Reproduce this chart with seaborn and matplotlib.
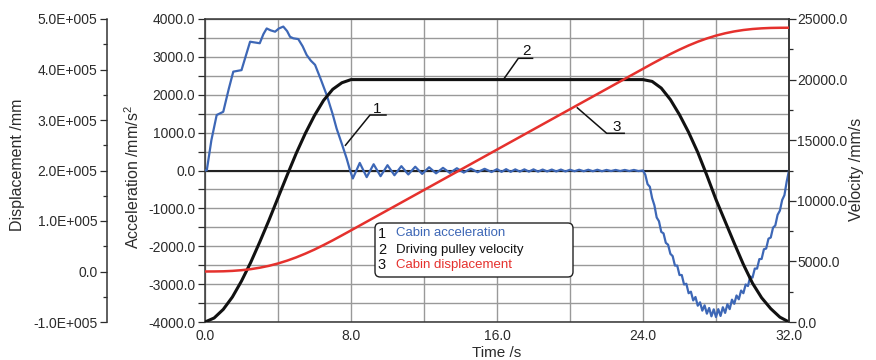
import matplotlib
matplotlib.use("Agg")
import matplotlib.pyplot as plt
import pandas as pd
import seaborn as sns
from matplotlib.patches import FancyBboxPatch
from matplotlib.ticker import MultipleLocator, FuncFormatter, FormatStrFormatter

# ---------------------------------------------------------------- data ----
# Cabin acceleration (mm/s^2) during start-up, constant-speed ripple and braking
acc_time_start = [0.0, 0.1, 0.35, 0.64, 1.0, 1.3, 1.55, 2.0, 2.25, 2.47, 3.0, 3.2,
                  3.38, 3.6, 3.84, 4.05, 4.29, 4.5, 4.66, 4.84, 5.11, 5.35, 5.57,
                  5.8, 6.03, 6.35, 6.67, 7.0, 7.21, 7.5, 7.76, 7.95]
acc_start = [0, 10, 800, 1465, 1550, 2150, 2610, 2650, 3050, 3400, 3360, 3600,
             3750, 3700, 3665, 3750, 3800, 3680, 3530, 3490, 3470, 3280, 3050,
             2900, 2790, 2400, 1990, 1480, 1110, 700, 320, 0]

acc_time_cruise = [8.1, 8.48, 8.86, 9.24, 9.62, 10.0, 10.38, 10.76, 11.14, 11.52,
                   11.9, 12.28, 12.66, 13.04, 13.42, 13.8, 14.18, 14.56, 14.94,
                   15.32, 15.7, 16.0, 16.25, 16.5, 16.75, 17.0, 17.25, 17.5, 17.75,
                   18.0, 18.25, 18.5, 18.75, 19.0, 19.25, 19.5, 19.75, 20.0, 20.25,
                   20.5, 20.75, 21.0, 21.25, 21.5, 21.75, 22.0, 22.25, 22.5, 22.75,
                   23.0, 23.25, 23.5, 23.75, 24.0]
acc_cruise = [-210, 200, -175, 165, -150, 140, -125, 115, -105, 100, -90, 85, -75,
              70, -65, 60, -55, 50, -45, 45, -40, 35, -35, 35, -35, 30, -30, 30,
              -30, 30, -30, 25, -25, 25, -25, 25, -25, 20, -20, 20, -20, 20, -20,
              20, -20, 15, -15, 15, -15, 15, -15, 15, -15, 0]

acc_time_brake = [24.125, 24.25, 24.375, 24.5, 24.625, 24.75, 24.875, 25.0, 25.125,
                  25.25, 25.375, 25.5, 25.625, 25.75, 25.875, 26.0, 26.125, 26.25,
                  26.375, 26.5, 26.625, 26.75, 26.875, 27.0, 27.125, 27.25, 27.375,
                  27.5, 27.625, 27.75, 27.875, 28.0, 28.125, 28.25, 28.375, 28.5,
                  28.625, 28.75, 28.875, 29.0, 29.125, 29.25, 29.375, 29.5, 29.625,
                  29.75, 29.875, 30.0, 30.125, 30.25, 30.375, 30.5, 30.625, 30.75,
                  30.875, 31.0, 31.125, 31.25, 31.375, 31.5, 31.625, 31.75, 31.875,
                  32.0]
acc_brake = [-110, -360, -430, -730, -920, -1240, -1340, -1620, -1660, -1910, -1960,
             -2200, -2260, -2510, -2510, -2760, -2760, -3010, -2990, -3240, -3200,
             -3430, -3340, -3570, -3480, -3700, -3560, -3780, -3630, -3850, -3665,
             -3870, -3660, -3840, -3610, -3760, -3530, -3660, -3410, -3520, -3300,
             -3400, -3170, -3240, -3010, -3050, -2800, -2830, -2590, -2590, -2340,
             -2335, -2080, -2060, -1800, -1770, -1510, -1450, -1170, -1060, -780,
             -650, -290, 0]

# Driving pulley velocity (mm/s) and cabin displacement (mm)
profile_time = [0.0, 0.5, 1.0, 1.5, 2.0, 2.5, 3.0, 3.5, 4.0, 4.5, 5.0, 5.5, 6.0,
                6.5, 7.0, 7.5, 8.0,
                24.0, 24.5, 25.0, 25.5, 26.0, 26.5, 27.0, 27.5, 28.0, 28.5, 29.0,
                29.5, 30.0, 30.5, 31.0, 31.5, 32.0]
velocity = [0, 330, 1040, 2060, 3380, 4900, 6600, 8380, 10250, 12110, 13920, 15570,
            17040, 18290, 19200, 19740, 20000,
            20000, 19850, 19300, 18350, 17100, 15650, 14000, 12100, 10100, 8300,
            6500, 4750, 3200, 2000, 1100, 400, 0]
displacement = [0, 100, 400, 1200, 2600, 4600, 7500, 11200, 15900, 21500, 28000,
                35400, 43500, 52400, 61700, 71500, 81400,
                401400, 411400, 421100, 430600, 439400, 447600, 455000, 461500,
                467100, 471700, 475400, 478200, 480200, 481500, 482300, 482600,
                482700]

legend_entries = ["Cabin acceleration", "Driving pulley velocity", "Cabin displacement"]

# ------------------------------------------------------------- frames ----
acc_df = pd.DataFrame({
    "t": acc_time_start + acc_time_cruise + acc_time_brake,
    "a": acc_start + acc_cruise + acc_brake,
})
prof_df = pd.DataFrame({"t": profile_time, "v": velocity, "s": displacement})

# -------------------------------------------------------------- style ----
sns.set_theme(style="white")
plt.rcParams["font.family"] = ["Liberation Sans", "DejaVu Sans"]
plt.rcParams["mathtext.fontset"] = "custom"
plt.rcParams["mathtext.rm"] = "Liberation Sans"
plt.rcParams["mathtext.it"] = "Liberation Sans"
plt.rcParams["lines.solid_joinstyle"] = "round"

BLUE = "#3d67b6"
BLACK = "#111111"
RED = "#e5312d"
TXT = "#2b2b2b"
GRID = "#999999"

W, H = 876, 360
fig = plt.figure(figsize=(W / 100, H / 100), dpi=100, facecolor="white")
L, R, T, B = 205, 789, 19, 322
ax = fig.add_axes([L / W, 1 - B / H, (R - L) / W, (B - T) / H])
ax_v = ax.twinx()
ax_d = ax.twinx()

# curves
sns.lineplot(data=acc_df, x="t", y="a", ax=ax, color=BLUE, lw=1.6,
             estimator=None, sort=False, legend=False, zorder=3)
sns.lineplot(data=prof_df, x="t", y="v", ax=ax_v, color=BLACK, lw=2.2,
             estimator=None, sort=False, legend=False)
sns.lineplot(data=prof_df, x="t", y="s", ax=ax_d, color=RED, lw=1.8,
             estimator=None, sort=False, legend=False)

# ----------------------------------------------------------- host axis ----
ax.set_xlim(0, 32)
ax.set_ylim(-4000, 4000)
ax.xaxis.set_major_locator(MultipleLocator(8))
ax.xaxis.set_minor_locator(MultipleLocator(4))
ax.xaxis.set_major_formatter(FormatStrFormatter("%.1f"))
ax.yaxis.set_major_locator(MultipleLocator(1000))
ax.yaxis.set_minor_locator(MultipleLocator(500))
ax.yaxis.set_major_formatter(FormatStrFormatter("%.1f"))
ax.grid(True, which="both", color=GRID, lw=1.0)
ax.axhline(0, color="#222222", lw=1.5, zorder=2)
ax.set_xlabel("")
ax.set_ylabel("")
ax.tick_params(axis="y", which="major", direction="out", length=5, width=0.9,
               color=TXT, labelsize=10, labelcolor=TXT, pad=2)
ax.tick_params(axis="y", which="minor", direction="out", length=5, width=0.9, color=TXT)
ax.tick_params(axis="x", which="both", direction="out", length=3, width=0.9,
               color=TXT, labelsize=10, labelcolor=TXT, pad=2)
for s in ax.spines.values():
    s.set_color("#333333")
    s.set_linewidth(1.1)

# -------------------------------------------------------- velocity axis ----
ax_v.set_ylim(0, 25000)
ax_v.yaxis.set_major_locator(MultipleLocator(5000))
ax_v.yaxis.set_minor_locator(MultipleLocator(2500))
ax_v.yaxis.set_major_formatter(FormatStrFormatter("%.1f"))
ax_v.set_ylabel("")
ax_v.tick_params(axis="y", which="major", direction="out", length=5, width=0.9,
                 color=TXT, labelsize=10, labelcolor=TXT, pad=1)
ax_v.tick_params(axis="y", which="minor", direction="out", length=3, width=0.9, color=TXT)
for k, s in ax_v.spines.items():
    s.set_visible(k == "right")
ax_v.spines["right"].set_color("#333333")
ax_v.spines["right"].set_linewidth(1.1)

# ---------------------------------------------------- displacement axis ----
def sci(v, _):
    if abs(v) < 1:
        return "0.0"
    return f"{v / 1e5:.1f}E+005"

ax_d.set_ylim(-1e5, 5e5)
ax_d.yaxis.tick_left()
ax_d.spines["left"].set_position(("axes", (107 - L) / (R - L)))
for k, s in ax_d.spines.items():
    s.set_visible(k == "left")
ax_d.spines["left"].set_color("#333333")
ax_d.spines["left"].set_linewidth(1.1)
ax_d.yaxis.set_major_locator(MultipleLocator(1e5))
ax_d.yaxis.set_minor_locator(MultipleLocator(5e4))
ax_d.yaxis.set_major_formatter(FuncFormatter(sci))
ax_d.set_ylabel("")
ax_d.tick_params(axis="y", which="major", direction="out", length=5, width=0.9,
                 color=TXT, labelsize=10, labelcolor=TXT, pad=2, right=False)
ax_d.tick_params(axis="y", which="minor", direction="out", length=3, width=0.9,
                 color=TXT, right=False)

# ------------------------------------------------------------- labels ----
def ftext(x, y, s, **kw):
    fig.text(x / W, 1 - y / H, s, ha="center", va="center", color=TXT, **kw)

ftext(18, 165, "Displacement /mm", rotation=90, fontsize=11.5)
ftext(133, 177, r"Acceleration /mm/s$^\mathregular{2}$", rotation=90, fontsize=11.5)
ftext(856, 169, "Velocity /mm/s", rotation=90, fontsize=11.5)
ftext(497, 353, "Time /s", fontsize=11)

# ----------------------------------------------------- leader callouts ----
lead = dict(color=BLACK, lw=1.1, zorder=6, solid_capstyle="butt")
ax.plot([7.67, 9.04, 9.96], [650, 1465, 1465], **lead)
ax.text(9.42, 1530, "1", ha="center", va="baseline", fontsize=11, color=BLACK, zorder=6)
ax.plot([16.35, 17.17, 17.99], [2400, 2962, 2962], **lead)
ax.text(17.59, 3040, "2", ha="center", va="baseline", fontsize=11, color=BLACK, zorder=6)
ax.plot([20.37, 22.01, 23.01], [1668, 982, 982], **lead)
ax.text(22.56, 1040, "3", ha="center", va="baseline", fontsize=11, color=BLACK, zorder=6)

# ------------------------------------------------------------- legend ----
def ax_frac(px, py):
    return (px - L) / (R - L), (B - py) / (B - T)

x0, y1 = ax_frac(375, 223)
x1, y0 = ax_frac(573, 277)
box = FancyBboxPatch((x0, y0), x1 - x0, y1 - y0,
                     boxstyle="round,pad=0,rounding_size=0.009",
                     mutation_aspect=(R - L) / (B - T),
                     transform=ax_d.transAxes, facecolor="white",
                     edgecolor="#222222", lw=1.0, zorder=20, clip_on=False)
ax_d.add_patch(box)
colors = [BLUE, BLACK, RED]
rows_y = [233.5, 249.5, 265.0]
for i, (label, c, py) in enumerate(zip(legend_entries, colors, rows_y)):
    nx, ny = ax_frac(382, py)
    tx, _ = ax_frac(396, py)
    ax_d.text(nx, ny, str(i + 1), transform=ax_d.transAxes, ha="center", va="center",
              fontsize=10.5, color=BLACK, zorder=21)
    ax_d.text(tx, ny, label, transform=ax_d.transAxes, ha="left", va="center",
              fontsize=9.5, color=c, zorder=21)

fig.savefig("out.png", dpi=100, facecolor="white")
